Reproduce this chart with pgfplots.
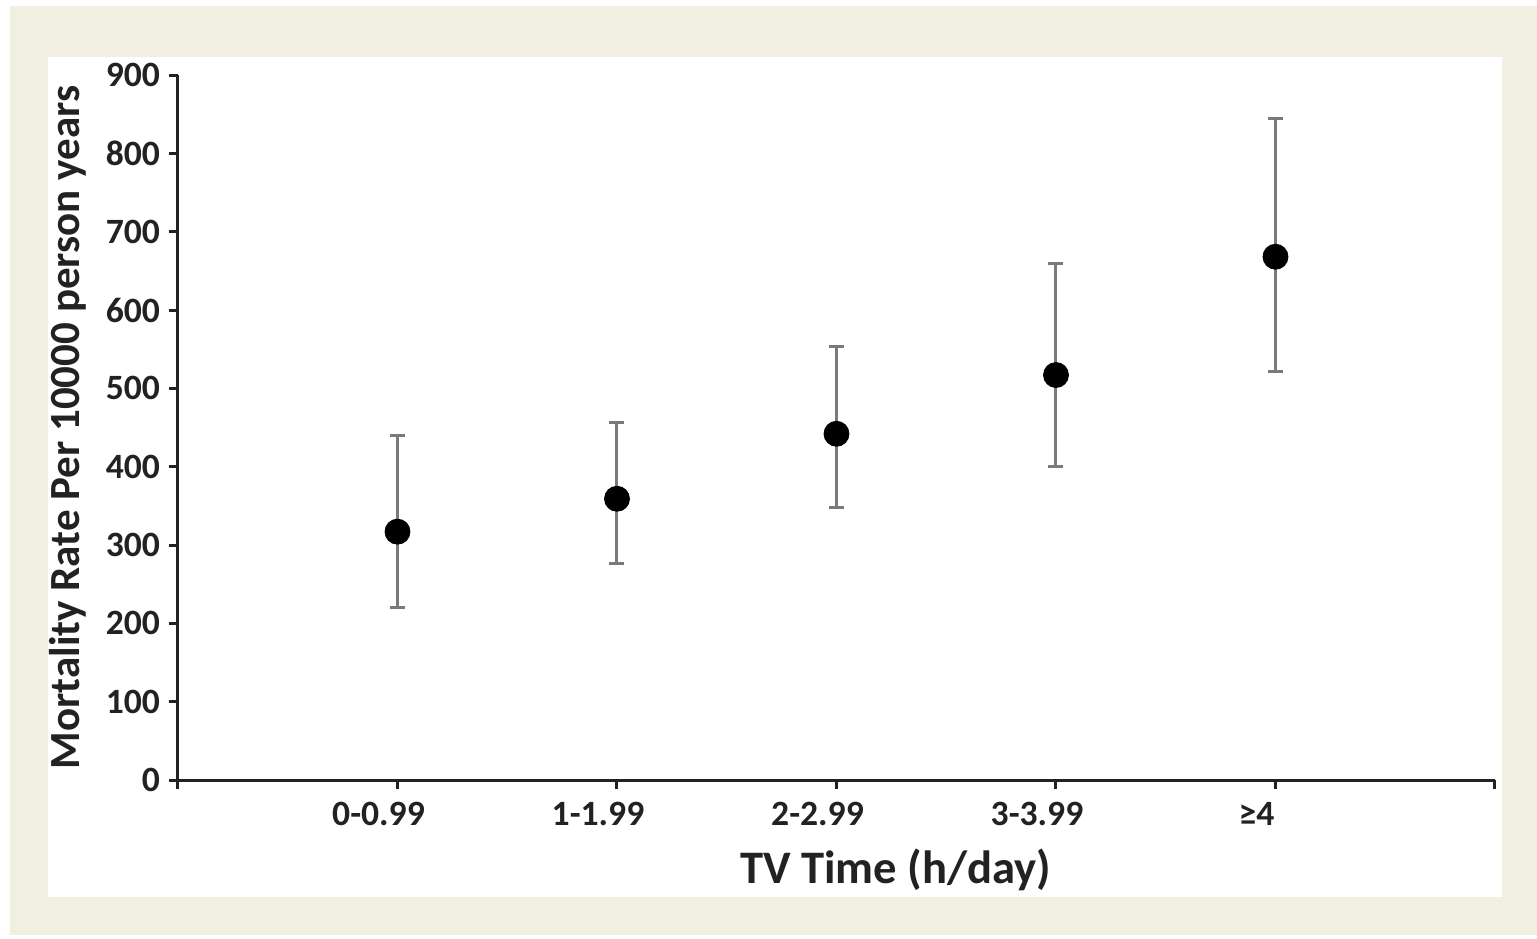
\documentclass[border=0pt]{standalone}
\usepackage{fontspec}
\setmainfont{Carlito}
\usepackage{pgfplots}
\pgfplotsset{compat=1.18}
\usetikzlibrary{backgrounds}
\definecolor{framebg}{HTML}{F1EEE2}
\definecolor{errgray}{HTML}{7A7A7A}
\definecolor{axisdark}{HTML}{222222}

\pgfplotstableread{
x  y    ep   em
1  317  123  97
2  359  97   82
3  442  112  94
4  517  142  117
5  668  176  147
}\mortality

\begin{document}
\begin{tikzpicture}
\useasboundingbox (-89pt,-79pt) rectangle (679.5pt,390pt);
\begin{axis}[
    at={(0,0)}, anchor=south west,
    scale only axis, width=658.5pt, height=352.5pt,
    axis lines=left, axis line style={-, axisdark, line width=1.5pt},
    xmin=0, xmax=6, ymin=0, ymax=900,
    xtick={0,1,2,3,4,5,6},
    xticklabels={,0-0.99,1-1.99,2-2.99,3-3.99,≥4,},
    ytick={0,100,...,900},
    tick align=outside, major tick length=4.5pt,
    tick style={axisdark, line width=1.5pt},
    /pgf/number format/assume math mode=true,
    ticklabel style={font=\fontsize{17.8}{19}\selectfont\bfseries, text=axisdark},
    x tick label style={xshift=-9.5pt, yshift=-3pt},
    y tick label style={xshift=-1pt},
    xlabel={TV Time (h/day)},
    ylabel={Mortality Rate Per 10000 person years},
    xlabel style={font=\fontsize{23.3}{26}\selectfont\bfseries, text=axisdark,
        at={(axis description cs:0.545,-0.128)}, anchor=center},
    ylabel style={font=\fontsize{21.5}{24}\selectfont\bfseries, text=axisdark,
        at={(axis description cs:-0.0835,0.5)}, anchor=center},
    clip=false,
]
\addplot[only marks, mark=*, mark size=6.25pt, mark options={fill=black, draw=black},
    error bars/.cd, y dir=both, y explicit,
    error bar style={errgray, line width=1.5pt},
    error mark options={rotate=90, errgray, mark size=3.75pt, line width=1.5pt}]
    table[x=x, y=y, y error plus=ep, y error minus=em] {\mortality};
\end{axis}
\begin{pgfonlayer}{background}
\fill[white] (-89pt,-79pt) rectangle (679.5pt,390pt);
\fill[framebg] (-84pt,-77.5pt) rectangle (679.5pt,387pt);
\fill[white] (-65pt,-58.5pt) rectangle (662pt,361.5pt);
\end{pgfonlayer}
\end{tikzpicture}
\end{document}
